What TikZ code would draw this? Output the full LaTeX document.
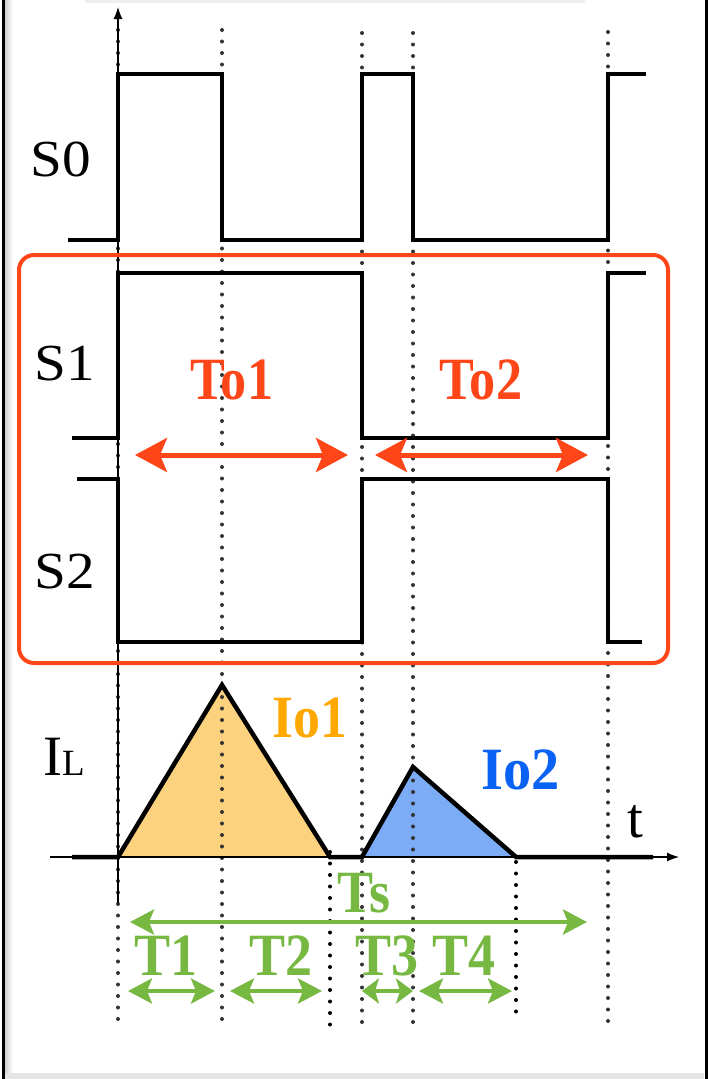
\documentclass[tikz,border=0pt]{standalone}
\usepackage{fontspec}
\setmainfont{Liberation Serif}
\usetikzlibrary{arrows.meta}
\definecolor{redor}{RGB}{255,70,24}
\definecolor{ioorange}{RGB}{255,168,0}
\definecolor{ioblue}{RGB}{10,98,245}
\definecolor{tgreen}{RGB}{118,184,66}
\definecolor{fillor}{RGB}{252,210,126}
\definecolor{fillbl}{RGB}{124,172,246}
\begin{document}
\begin{tikzpicture}[x=1pt,y=-1pt,
  wave/.style={line width=4pt, line join=miter, line cap=butt},
  guide/.style={line width=4pt, dash pattern=on 0pt off 11.5pt, line cap=round, draw=black!80},
  guideb/.style={guide, draw=black},
  big/.style={font=\fontsize{60}{60}\selectfont\bfseries, inner sep=0pt, anchor=base},
  lab/.style={font=\fontsize{52}{52}\selectfont, inner sep=0pt, anchor=base},
  toarrow/.style={draw=redor, line width=5pt, {Stealth[length=32pt,width=34pt,inset=7pt]}-{Stealth[length=32pt,width=34pt,inset=7pt]}},
  tarrow/.style={draw=tgreen, line width=4pt, {Stealth[length=24pt,width=25pt,inset=5pt]}-{Stealth[length=24pt,width=25pt,inset=5pt]}},
  tarrows/.style={draw=tgreen, line width=4pt, {Stealth[length=17pt,width=25pt,inset=4pt]}-{Stealth[length=17pt,width=25pt,inset=4pt]}},
  axis/.style={line width=1.2pt, -{Latex[length=12pt,width=9pt]}}
]
\useasboundingbox (0,0) rectangle (709,1079);
% frame
\fill[white] (0,0) rectangle (709,1079);
\shade[left color=black!18, right color=white] (5,0) rectangle (13,1079);
\fill[black!10] (5,1073) rectangle (704,1079);
\fill[black!6] (85,0) rectangle (585,3);
\draw[line width=3pt] (3.5,0) -- (3.5,1079);
\draw[line width=3pt] (706.5,0) -- (706.5,1079);

% filled current triangles
\fill[fillor] (118,857) -- (222,685) -- (330,857) -- cycle;
\fill[fillbl] (362,857) -- (413,767) -- (516,857) -- cycle;

% dotted guide lines
\draw[guide] (118,30) -- (118,1022);
\draw[guide] (222,30) -- (222,1022);
\draw[guide] (362,33) -- (362,1027);
\draw[guide] (413,33) -- (413,1027);
\draw[guide] (608,32) -- (608,1022);
\draw[guideb] (330,852) -- (330,1028);
\draw[guideb] (516,862) -- (516,1022);

% axes
\draw[axis] (118,903) -- (118,7);
\draw[axis] (50,857) -- (679,857);

% waveforms
\draw[wave] (68,240) -- (118,240) -- (118,74) -- (222,74) -- (222,240) -- (362,240) -- (362,74) -- (413,74) -- (413,240) -- (608,240) -- (608,74) -- (646,74);
\draw[wave] (72,438) -- (118,438) -- (118,273) -- (362,273) -- (362,438) -- (608,438) -- (608,273) -- (646,273);
\draw[wave] (77,479) -- (118,479) -- (118,642) -- (362,642) -- (362,479) -- (608,479) -- (608,642) -- (642,642);
\draw[wave, line width=4.5pt] (72,857) -- (118,857) -- (222,685) -- (330,857) -- (362,857) -- (413,767) -- (516,857) -- (653,857);

% red frame
\draw[redor, line width=4pt, rounded corners=15pt] (19,255) rectangle (668,663);

% labels
\node[lab] (s0) at (61,176) {\scalebox{1.1}[1]{S0}};
\node[lab] (s1) at (65,380) {\scalebox{1.1}[1]{S1}};
\node[lab] (s2) at (65,588) {\scalebox{1.1}[1]{S2}};
\node[lab, font=\fontsize{57}{57}\selectfont] (il) at (64,775) {I\fontsize{37}{37}\selectfont L};
\node[lab, font=\fontsize{57}{57}\selectfont] (t) at (635,837) {t};
\node[big, text=redor] (to1) at (232,399) {\scalebox{0.87}[1]{To1}};
\node[big, text=redor] (to2) at (481,399) {\scalebox{0.87}[1]{To2}};
\node[big, text=ioorange] (io1) at (310,737) {\scalebox{0.9}[1]{Io1}};
\node[big, text=ioblue] (io2) at (521,789) {\scalebox{0.94}[1]{Io2}};
\node[big, text=tgreen] (ts) at (364,912) {\scalebox{0.9}[1]{Ts}};
\node[big, text=tgreen] (t1) at (166,975) {\scalebox{0.9}[1]{T1}};
\node[big, text=tgreen] (t2) at (281,975) {\scalebox{0.9}[1]{T2}};
\node[big, text=tgreen] (t3) at (387,975) {\scalebox{0.9}[1]{T3}};
\node[big, text=tgreen] (t4) at (464,975) {\scalebox{0.9}[1]{T4}};

% arrows
\coordinate (o1l) at (135,455); \coordinate (o1r) at (348,455);
\coordinate (o2l) at (375,455); \coordinate (o2r) at (588,455);
\draw[toarrow] (o1l) -- (o1r);
\draw[toarrow] (o2l) -- (o2r);
\coordinate (tsl) at (130,922); \coordinate (tsr) at (587,922);
\draw[tarrow] (tsl) -- (tsr);
\coordinate (a1l) at (128,991); \coordinate (a1r) at (215,991);
\coordinate (a2l) at (230,991); \coordinate (a2r) at (322,991);
\coordinate (a3l) at (362,991); \coordinate (a3r) at (413,991);
\coordinate (a4l) at (419,991); \coordinate (a4r) at (512,991);
\draw[tarrow] (a1l) -- (a1r);
\draw[tarrow] (a2l) -- (a2r);
\draw[tarrows] (a3l) -- (a3r);
\draw[tarrow] (a4l) -- (a4r);
\end{tikzpicture}
\end{document}
